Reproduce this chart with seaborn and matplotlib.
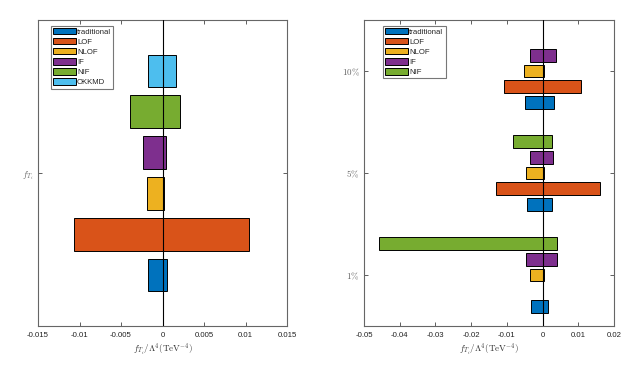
import numpy as np
import pandas as pd
import matplotlib
matplotlib.use("Agg")
import matplotlib.pyplot as plt
import seaborn as sns
from matplotlib.patches import Patch

# ---------------- data ----------------
methods_left = ["traditional", "LOF", "NLOF", "IF", "NIF", "OKKMD"]
left_lower = [-0.00177, -0.01064, -0.0019, -0.0024, -0.0039, -0.00169]
left_upper = [0.00056, 0.0104, 0.0002, 0.0004, 0.00213, 0.00161]
left_category = [r"$f_{T_i}$"]

methods_right = ["traditional", "LOF", "NLOF", "IF", "NIF"]
levels = [r"$1\%$", r"$5\%$", r"$10\%$"]
lower_1 = [-0.00336, 0.0, -0.00355, -0.00457, -0.0457]
upper_1 = [0.00149, 0.0, 0.00028, 0.0040, 0.0039]
lower_5 = [-0.00439, -0.0130, -0.00457, -0.00364, -0.0083]
upper_5 = [0.00252, 0.0160, 0.00037, 0.00289, 0.0026]
lower_10 = [-0.00504, -0.01073, -0.00513, -0.00355, 0.0]
upper_10 = [0.00317, 0.01064, 0.00037, 0.00373, 0.0]

left_xticks = [-0.015, -0.01, -0.005, 0, 0.005, 0.01, 0.015]
left_xticklabels = ["-0.015", "-0.01", "-0.005", "0", "0.005", "0.01", "0.015"]
right_xticks = [-0.05, -0.04, -0.03, -0.02, -0.01, 0, 0.01, 0.02]
right_xticklabels = ["-0.05", "-0.04", "-0.03", "-0.02", "-0.01", "0", "0.01", "0.02"]

colors = {"traditional": "#0072BD", "LOF": "#D95319", "NLOF": "#EDB120",
          "IF": "#7E2F8E", "NIF": "#77AC30", "OKKMD": "#4DBEEE"}

xlabel = r"$f_{T_i}/\Lambda^4(\mathrm{TeV}^{-4})$"

# ---------------- frames ----------------
dfL = pd.DataFrame({"cat": left_category * len(methods_left),
                    "method": methods_left,
                    "lower": left_lower, "upper": left_upper})

rows = []
for lev, lo, up in zip(levels, [lower_1, lower_5, lower_10], [upper_1, upper_5, upper_10]):
    for m, a, b in zip(methods_right, lo, up):
        rows.append({"cat": lev, "method": m, "lower": a, "upper": b})
dfR = pd.DataFrame(rows)

# ---------------- style ----------------
sns.set_style("ticks")
plt.rcParams["font.family"] = ["Liberation Sans", "DejaVu Sans"]
plt.rcParams["mathtext.fontset"] = "cm"

fig = plt.figure(figsize=(6.38, 3.68), dpi=100)
ax1 = fig.add_axes([38 / 638, 42 / 368, 249 / 638, 306 / 368])
ax2 = fig.add_axes([364 / 638, 42 / 368, 250 / 638, 306 / 368])

bar_kw = dict(palette=colors, saturation=1, width=0.8, gap=0.2,
              edgecolor="black", linewidth=0.7, errorbar=None,
              legend=False, orient="h")

for col in ["lower", "upper"]:
    sns.barplot(data=dfL, x=col, y="cat", hue="method",
                hue_order=methods_left[::-1], ax=ax1, **bar_kw)

right_order = levels[::-1]
for col in ["lower", "upper"]:
    sns.barplot(data=dfR, x=col, y="cat", hue="method", order=right_order,
                hue_order=methods_right[::-1], ax=ax2,
                **{**bar_kw, "width": 5 / 6.5})

ax1.set_ylim(0.5, -0.5)
ax2.set_ylim(2.5, -0.5)
ax1.set_xlim(-0.015, 0.015)
ax2.set_xlim(-0.05, 0.02)
ax1.set_xticks(left_xticks, left_xticklabels)
ax2.set_xticks(right_xticks, right_xticklabels)

for ax, methods in [(ax1, methods_left), (ax2, methods_right)]:
    ax.axvline(0, color="black", lw=0.8, zorder=6)
    ax.set_ylabel("")
    ax.set_xlabel(xlabel, fontsize=6.5, color="#333333", labelpad=2)
    for s in ax.spines.values():
        s.set_visible(True)
        s.set_color("#666666")
        s.set_linewidth(0.8)
    ax.tick_params(direction="in", top=True, right=True, length=3,
                   width=0.6, color="#444444")
    ax.tick_params(axis="x", labelsize=5.6, labelcolor="#222222", pad=4)
    ax.tick_params(axis="y", labelsize=6.5, labelcolor="#666666", pad=3)
    handles = [Patch(facecolor=colors[m], edgecolor="black", lw=0.7, label=m)
               for m in methods]
    x0 = 0.052 if ax is ax1 else 0.076
    leg = ax.legend(handles=handles, loc="upper left", bbox_to_anchor=(x0, 0.982),
                    fontsize=5.6, frameon=True, fancybox=False,
                    handlelength=2.9, handleheight=0.9, handletextpad=0.15,
                    labelspacing=0.28, borderpad=0.3, borderaxespad=0)
    leg.get_frame().set_edgecolor("#555555")
    leg.get_frame().set_linewidth(0.8)
    leg.set_zorder(10)

fig.savefig("out.png", dpi=100, facecolor="white")
